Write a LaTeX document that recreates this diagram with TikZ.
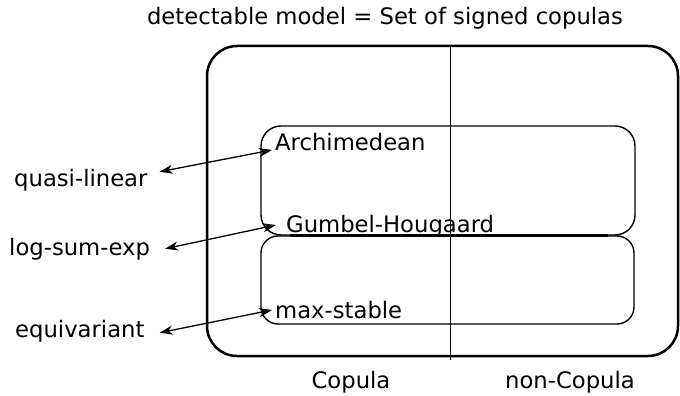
\documentclass[tikz,border=0pt]{standalone}
\usepackage{fontspec}
\setmainfont{DejaVu Sans}
\usetikzlibrary{arrows.meta}

\tikzset{
  lbl/.style={anchor=base west, inner sep=2pt, font=\fontsize{22.7}{27}\selectfont},
  side/.style={anchor=base west, inner sep=0pt, font=\fontsize{22.7}{27}\selectfont},
  link/.style={{Stealth[length=13pt,width=9pt,inset=4pt]}-{Stealth[length=13pt,width=9pt,inset=4pt]}, line width=1.3pt}
}

\begin{document}
\begin{tikzpicture}[x=1pt, y=-1pt]
  \useasboundingbox (0,0) rectangle (680,396);

  % Outer set and the copula split
  \draw[line width=2.5pt, rounded corners=30pt] (207,46) rectangle (678,356);
  \draw[line width=1pt] (450,46) -- (450,360);

  % Inner classes
  \draw[line width=1.4pt, rounded corners=20pt] (261,126) rectangle (635,235);
  \draw[line width=1.4pt, rounded corners=17pt] (261,236) rectangle (634,324);
  \draw[line width=3pt] (290,235) -- (608,235);

  % Labels inside
  \node[lbl] (arch) at (273,150) {Archimedean};
  \node[lbl] (gh) at (284,232) {Gumbel-Hougaard};
  \node[lbl] (ms) at (273,318) {max-stable};

  % Labels outside
  \node[side] (ql) at (14,186) {quasi-linear};
  \node[side] (lse) at (9,255) {log-sum-exp};
  \node[side] (eqv) at (15,337) {equivariant};

  \node[anchor=base, font=\fontsize{22.7}{27}\selectfont] (title) at (385,25) {detectable model = Set of signed copulas};
  \node[anchor=base, font=\fontsize{22.7}{27}\selectfont] (cop) at (351,388) {Copula};
  \node[anchor=base, font=\fontsize{22.7}{27}\selectfont] (ncop) at (570,388) {non-Copula};

  % Correspondences
  \draw[link] ([xshift=12pt,yshift=8pt]ql.east) -- ([xshift=-1pt]arch.base west);
  \draw[link] ([xshift=15pt]lse.east) -- ([xshift=-8pt,yshift=7pt]gh.base west);
  \draw[link] ([xshift=15pt,yshift=-2pt]eqv.east) -- ([xshift=-1pt,yshift=8pt]ms.base west);
\end{tikzpicture}
\end{document}
